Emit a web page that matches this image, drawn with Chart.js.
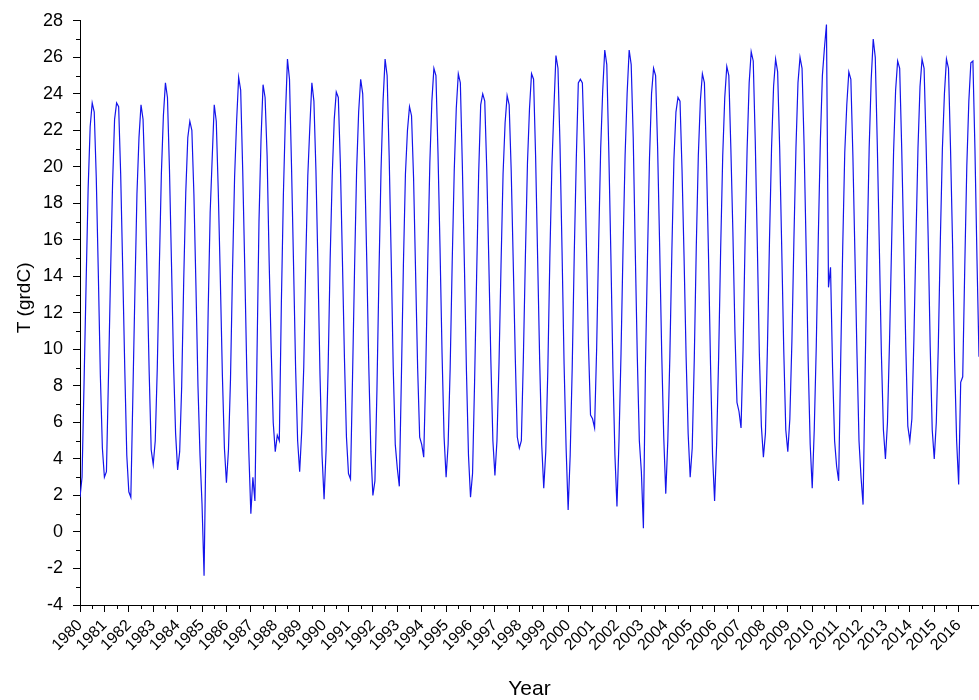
<!DOCTYPE html>
<html>
<head>
<meta charset="utf-8">
<script src="https://cdn.jsdelivr.net/npm/chart.js@4"></script>
<style>
  html, body { margin: 0; padding: 0; background: #fff; }
  #wrap { width: 979px; height: 700px; }
</style>
</head>
<body>
<div id="wrap"><canvas id="c" width="979" height="700"></canvas></div>
<script>
// Tick labels (years on the x axis)
const years = [];
for (let y = 1980; y <= 2016; y++) years.push(y);

// Monthly mean temperature (grdC), Jan..Dec per year
const temps1980s = [
  1.9, 3.0, 8.2, 13.6, 18.8, 22.2, 23.5, 23.0, 19.4, 14.2, 8.6, 4.6,   // 1980
  3.0, 3.3, 8.5, 14.0, 19.0, 22.6, 23.5, 23.3, 19.6, 14.4, 9.0, 4.2,   // 1981
  2.2, 1.9, 7.5, 13.2, 18.5, 21.6, 23.4, 22.6, 19.0, 14.0, 8.8, 4.5,   // 1982
  3.7, 5.0, 9.0, 14.5, 19.6, 22.8, 24.6, 23.8, 19.8, 14.6, 9.2, 5.4,   // 1983
  3.4, 4.4, 8.0, 13.8, 18.6, 21.6, 22.5, 22.0, 18.5, 13.5, 8.0, 4.2,   // 1984
  1.5, -2.4, 5.5, 12.0, 17.5, 20.5, 23.4, 22.5, 18.6, 13.8, 8.6, 4.6,  // 1985
  2.7, 4.5, 8.4, 14.4, 19.4, 22.5, 24.9, 24.2, 19.8, 14.5, 8.8, 4.4,   // 1986
  1.0, 3.0, 1.7, 9.5, 17.0, 21.5, 24.5, 23.8, 20.6, 14.8, 10.0, 6.0,   // 1987
  4.4, 5.3, 5.0, 12.5, 18.5, 22.8, 25.9, 24.8, 20.0, 14.6, 9.0, 5.0,   // 1988
  3.3, 5.5, 9.0, 14.8, 19.5, 22.2, 24.6, 23.6, 19.8, 14.5, 8.6, 4.2    // 1989
];
const temps1990s = [
  1.8, 4.5, 9.0, 15.0, 19.5, 22.6, 24.1, 23.8, 20.2, 15.0, 9.6, 5.2,   // 1990
  3.2, 2.9, 8.5, 14.5, 19.8, 23.0, 24.8, 24.0, 20.0, 14.8, 9.0, 4.4,   // 1991
  2.0, 2.8, 7.8, 14.2, 19.8, 23.6, 25.9, 25.0, 20.6, 15.0, 9.0, 4.8,   // 1992
  3.5, 2.5, 8.4, 14.6, 19.6, 22.0, 23.3, 22.8, 19.4, 14.2, 9.0, 5.2,   // 1993
  4.8, 4.1, 8.8, 15.0, 20.2, 23.6, 25.4, 25.0, 20.8, 15.6, 9.8, 5.2,   // 1994
  3.0, 4.8, 9.0, 14.8, 19.8, 23.2, 25.1, 24.6, 20.0, 14.6, 8.8, 4.2,   // 1995
  1.9, 3.2, 8.2, 14.0, 19.6, 23.4, 24.0, 23.6, 19.8, 14.8, 9.4, 5.0,   // 1996
  3.1, 5.0, 9.2, 14.6, 19.6, 22.4, 23.9, 23.4, 19.8, 14.8, 9.6, 5.2,   // 1997
  4.6, 5.0, 9.6, 15.2, 20.2, 23.2, 25.1, 24.8, 20.6, 15.0, 9.4, 4.8,   // 1998
  2.4, 4.4, 8.8, 15.0, 20.0, 23.2, 26.1, 25.4, 21.2, 15.4, 9.2, 4.6    // 1999
];
const temps2000s = [
  1.2, 4.2, 9.0, 15.2, 20.4, 24.6, 24.8, 24.6, 20.8, 15.6, 10.2, 6.4,  // 2000
  6.2, 5.7, 10.0, 15.8, 21.0, 24.2, 26.4, 25.6, 20.8, 15.2, 9.0, 4.2,  // 2001
  1.4, 5.0, 9.8, 15.6, 20.6, 24.0, 26.4, 25.6, 21.6, 15.4, 9.6, 5.0,   // 2002
  3.3, 0.2, 9.0, 15.0, 20.5, 24.0, 25.4, 25.0, 21.0, 15.6, 9.8, 5.2,   // 2003
  2.1, 5.0, 9.6, 15.4, 20.4, 23.0, 23.8, 23.6, 19.8, 15.0, 9.6, 5.4,   // 2004
  3.0, 4.6, 9.4, 15.6, 20.6, 23.6, 25.1, 24.6, 20.4, 15.2, 9.2, 4.2,   // 2005
  1.7, 4.8, 9.6, 15.6, 20.6, 23.8, 25.5, 25.0, 21.0, 16.4, 11.0, 7.1,  // 2006
  6.6, 5.7, 10.0, 16.0, 21.0, 24.6, 26.3, 25.8, 21.4, 15.8, 9.8, 5.8,  // 2007
  4.1, 5.4, 10.2, 16.0, 21.0, 24.4, 25.9, 25.2, 21.0, 15.6, 10.0, 5.6, // 2008
  4.4, 6.2, 10.4, 16.0, 21.0, 24.6, 26.0, 25.4, 21.2, 15.6, 9.4, 4.8   // 2009
];
const temps2010s = [
  2.4, 5.6, 10.2, 16.2, 21.4, 25.0, 26.5, 27.8, 13.4, 14.5, 9.0, 5.0,  // 2010
  3.6, 2.8, 9.4, 15.6, 20.8, 23.4, 25.2, 24.8, 20.6, 15.2, 9.8, 5.0,   // 2011
  3.0, 1.5, 8.6, 15.4, 21.0, 24.8, 27.0, 26.0, 21.2, 15.6, 9.8, 5.6,   // 2012
  4.0, 6.0, 10.4, 15.6, 20.8, 24.2, 25.8, 25.4, 21.0, 15.8, 10.2, 5.8, // 2013
  5.0, 6.2, 10.6, 16.0, 21.0, 24.4, 25.9, 25.4, 21.2, 16.2, 10.2, 5.6, // 2014
  4.0, 6.0, 10.2, 16.0, 21.0, 24.0, 25.9, 25.4, 21.0, 15.8, 9.4, 5.0,  // 2015
  2.6, 8.2, 8.5, 14.5, 20.0, 23.6, 25.7, 25.8, 21.0, 15.0, 9.6         // 2016 (Jan..Nov)
];

const temps = [].concat(temps1980s, temps1990s, temps2000s, temps2010s);
const startYear = 1980;
const points = temps.map((v, i) => ({ x: startYear + i / 12, y: v }));
const xMax = startYear + (temps.length - 1) / 12;

const yTitle = 'T (grdC)';
const xTitle = 'Year';
const FONT = "'Liberation Sans', Arial, sans-serif";

const minorTicks = {
  id: 'minorTicks',
  afterDraw(chart) {
    const { ctx } = chart;
    const xs = chart.scales.x, ys = chart.scales.y;
    ctx.save();
    ctx.strokeStyle = '#000';
    ctx.lineWidth = 1;
    ctx.beginPath();
    for (let v = Math.ceil(ys.min); v <= ys.max; v++) {
      if (v % 2 === 0) continue;
      const py = Math.round(ys.getPixelForValue(v)) + 0.5;
      ctx.moveTo(ys.right, py);
      ctx.lineTo(ys.right - 4, py);
    }
    for (const yr of years) {
      const v = yr + 0.5;
      if (v > xs.max) continue;
      const px = Math.round(xs.getPixelForValue(v)) + 0.5;
      ctx.moveTo(px, xs.top);
      ctx.lineTo(px, xs.top + 4);
    }
    ctx.stroke();
    // y axis title, drawn slightly above the axis centre as in the reference
    const ca = chart.chartArea;
    ctx.fillStyle = '#000';
    ctx.font = '19px ' + FONT;
    ctx.textAlign = 'center';
    ctx.textBaseline = 'middle';
    ctx.translate(25, (ca.top + ca.bottom) / 2 - 15);
    ctx.rotate(-Math.PI / 2);
    ctx.fillText(yTitle, 0, 0);
    ctx.restore();
  }
};

new Chart(document.getElementById('c'), {
  type: 'line',
  data: {
    datasets: [{
      data: points,
      borderColor: 'rgb(20,20,235)',
      borderWidth: 1.2,
      pointRadius: 0,
      tension: 0,
      fill: false
    }]
  },
  options: {
    responsive: false,
    animation: false,
    events: [],
    layout: { padding: { top: 19, right: 0, bottom: 0, left: 0 } },
    plugins: { legend: { display: false }, tooltip: { enabled: false } },
    scales: {
      x: {
        type: 'linear',
        min: startYear,
        max: xMax,
        grid: { drawOnChartArea: false, color: '#000', tickLength: 7, tickColor: '#000' },
        border: { color: '#000', width: 1 },
        ticks: {
          stepSize: 1,
          includeBounds: false,
          autoSkip: false,
          minRotation: 45,
          maxRotation: 45,
          padding: 4,
          color: '#000',
          font: { family: FONT, size: 16 },
          callback: (v) => String(v)
        },
        title: { display: true, text: xTitle, color: '#000', font: { family: FONT, size: 21, lineHeight: 1.0 }, padding: { top: 0, bottom: 0 } },
        afterFit(s) { s.height = 95; s.paddingLeft = 0; s.paddingRight = 0; }
      },
      y: {
        min: -4,
        max: 28,
        grid: { drawOnChartArea: false, color: '#000', tickLength: 7, tickColor: '#000' },
        border: { color: '#000', width: 1 },
        ticks: {
          stepSize: 2,
          padding: 10,
          color: '#000',
          font: { family: FONT, size: 18 }
        },
        title: { display: false },
        afterFit(s) { s.width = 80; }
      }
    }
  },
  plugins: [minorTicks]
});
</script>
</body>
</html>
